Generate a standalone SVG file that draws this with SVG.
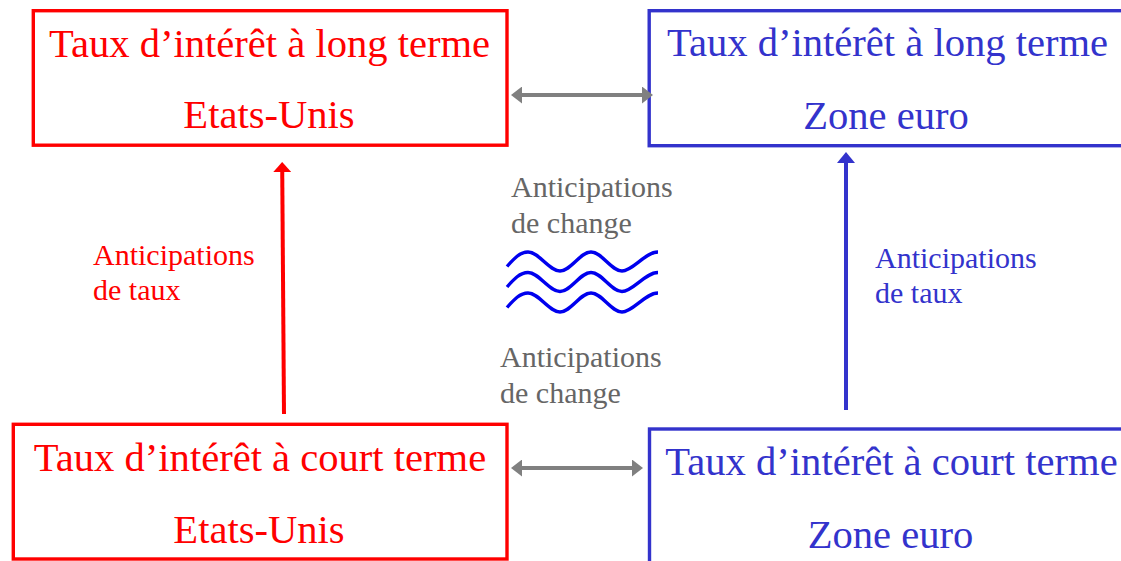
<svg xmlns="http://www.w3.org/2000/svg" width="1121" height="561" viewBox="0 0 1121 561">
<style>
.box{fill:#FFFFFF;stroke-width:3.4}
.red{stroke:#FF0000}
.blue{stroke:#3333CC}
.t{font-family:"Liberation Serif","Times New Roman",serif;font-size:40.6px;text-anchor:middle}
.lbl{font-family:"Liberation Serif","Times New Roman",serif;font-size:30px}
.fr{fill:#FF0000}
.fb{fill:#3333CC}
.fg{fill:#666666}
.conn{fill:none;stroke-width:4}
.wave{fill:none;stroke:#0000EE;stroke-width:3.4}
</style>
<defs>
<marker id="ahGrey" viewBox="0 0 11 17" refX="5.5" refY="8.5" markerWidth="11" markerHeight="17" markerUnits="userSpaceOnUse" orient="auto-start-reverse">
<path d="M0,0 L11,8.5 L0,17 z" fill="#808080"/>
</marker>
<marker id="ahRed" viewBox="0 0 10 18" refX="5" refY="9" markerWidth="10" markerHeight="18" markerUnits="userSpaceOnUse" orient="auto">
<path d="M0,0 L10,9 L0,18 z" fill="#FF0000"/>
</marker>
<marker id="ahBlue" viewBox="0 0 11 18" refX="5.5" refY="9" markerWidth="11" markerHeight="18" markerUnits="userSpaceOnUse" orient="auto">
<path d="M0,0 L11,9 L0,18 z" fill="#3333CC"/>
</marker>
</defs>
<rect width="1121" height="561" fill="#FFFFFF"/>
<g id="node-us-long">
<rect class="box red" x="33.3" y="10.7" width="473.7" height="134.5"/>
<text class="t fr" x="269.5" y="57">Taux d’intérêt à long terme</text>
<text class="t fr" x="269" y="128">Etats-Unis</text>
</g>
<g id="node-eu-long">
<rect class="box blue" x="649.2" y="10.7" width="480" height="135"/>
<text class="t fb" x="887.5" y="56">Taux d’intérêt à long terme</text>
<text class="t fb" x="886" y="129">Zone euro</text>
</g>
<g id="node-us-short">
<rect class="box red" x="13.3" y="424.3" width="493.7" height="134.7"/>
<text class="t fr" x="260" y="471">Taux d’intérêt à court terme</text>
<text class="t fr" x="259" y="543">Etats-Unis</text>
</g>
<g id="node-eu-short">
<rect class="box blue" x="649.5" y="429" width="480" height="150"/>
<text class="t fb" x="891.5" y="475">Taux d’intérêt à court terme</text>
<text class="t fb" x="890.5" y="548">Zone euro</text>
</g>
<g id="connectors">
<line class="conn" stroke="#808080" x1="516.5" y1="95" x2="647.5" y2="95" marker-start="url(#ahGrey)" marker-end="url(#ahGrey)"/>
<line class="conn" stroke="#808080" x1="516.5" y1="468" x2="637.5" y2="468" marker-start="url(#ahGrey)" marker-end="url(#ahGrey)"/>
<line class="conn" stroke="#FF0000" x1="284" y1="414" x2="282.2" y2="167" marker-end="url(#ahRed)"/>
<line class="conn" stroke="#3333CC" x1="846" y1="410" x2="846" y2="157.5" marker-end="url(#ahBlue)"/>
</g>
<g id="labels">
<text class="lbl fr" x="93" y="265">Anticipations</text>
<text class="lbl fr" x="93" y="300">de taux</text>
<text class="lbl fb" x="875" y="268">Anticipations</text>
<text class="lbl fb" x="875" y="303">de taux</text>
<text class="lbl fg" x="511" y="197">Anticipations</text>
<text class="lbl fg" x="511" y="233">de change</text>
<text class="lbl fg" x="500" y="367">Anticipations</text>
<text class="lbl fg" x="500" y="403">de change</text>
</g>
<g id="waves">
<path class="wave" d="M507,266.5 C514,258.5 520,252 528,252 C539,252 549,271 560,271 C571,271 580,252 591,252 C602,252 611,271 622,271 C633,271 645,252 658,252"/>
<path class="wave" d="M507,287 C514,279 520,272.5 528,272.5 C539,272.5 549,291.5 560,291.5 C571,291.5 580,272.5 591,272.5 C602,272.5 611,291.5 622,291.5 C633,291.5 645,272.5 658,272.5"/>
<path class="wave" d="M507,307.5 C514,299.5 520,293 528,293 C539,293 549,312 560,312 C571,312 580,293 591,293 C602,293 611,312 622,312 C633,312 645,293 658,293"/>
</g>
</svg>
